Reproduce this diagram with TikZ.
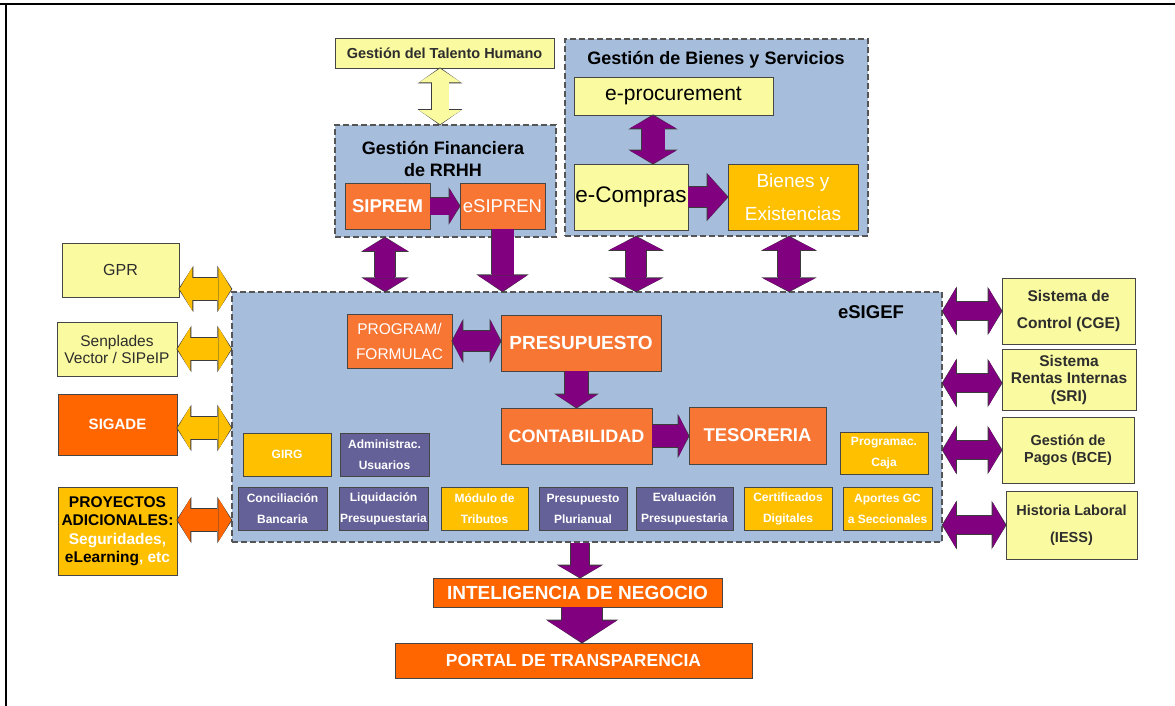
\documentclass[tikz,border=0pt]{standalone}
\usepackage{fontspec}
\setmainfont{Liberation Sans}
\usetikzlibrary{arrows.meta}

\definecolor{groupblue}{RGB}{166,190,220}
\definecolor{groupline}{RGB}{85,85,85}
\definecolor{paleyellow}{RGB}{250,250,160}
\definecolor{boxorange}{RGB}{247,118,52}
\definecolor{redorange}{RGB}{255,102,0}
\definecolor{gold}{RGB}{255,192,0}
\definecolor{slate}{RGB}{100,96,152}
\definecolor{plum}{RGB}{128,0,128}
\definecolor{boxline}{RGB}{70,70,70}
\definecolor{arrowline}{RGB}{60,60,60}
\definecolor{darktext}{RGB}{45,45,45}

\begin{document}
\begin{tikzpicture}[x=1pt, y=-1pt,
    box/.style={rectangle, draw=boxline, line width=0.9pt, inner sep=1pt, align=center},
    pale_box/.style={box, fill=paleyellow, text=darktext},
    orange_box/.style={box, fill=boxorange, text=white},
    red_box/.style={box, fill=redorange, text=white},
    gold_box/.style={box, fill=gold, text=white},
    slate_box/.style={box, fill=slate, text=white},
    small/.style={font=\fontsize{12}{21}\selectfont\bfseries,
                  minimum width=89pt, minimum height=43pt},
    group/.style={rectangle, draw=groupline, fill=groupblue, line width=1.5pt,
                  dash pattern=on 6pt off 3pt},
    fat/.style n args={3}{line width=#1,
        -{Triangle[width=#2, length=#3, line width=0pt]},
        preaction={draw=arrowline, line width=#1+1.6pt, shorten >=-1pt,
                   -{Triangle[width=#2+2.6pt, length=#3+2pt, line width=0pt]}}},
    fat_both/.style n args={3}{line width=#1,
        {Triangle[width=#2, length=#3, line width=0pt]}-{Triangle[width=#2, length=#3, line width=0pt]},
        preaction={draw=arrowline, line width=#1+1.6pt, shorten >=-1pt, shorten <=-1pt,
                   {Triangle[width=#2+2.6pt, length=#3+2pt, line width=0pt]}-{Triangle[width=#2+2.6pt, length=#3+2pt, line width=0pt]}}}]
  \useasboundingbox (0,0) rectangle (1175,706);
  % frame
  \draw [line width=2pt] (0,4) -- (1175,4);
  \draw [line width=2pt] (5.5,4) -- (5.5,706);

  % groups
  \node (gfin_rrhh) [group, minimum width=221pt, minimum height=112pt] at (445.5,181) {};
  \node (bienes_serv) [group, minimum width=303pt, minimum height=197pt] at (716.5,137.5) {};
  \node (esigef) [group, minimum width=710pt, minimum height=250pt] at (587,417) {};
  \node (gfin_title) [font=\fontsize{18}{22}\selectfont\bfseries, align=center]
        at (443,159) {Gestión Financiera\\de RRHH};
  \node (bienes_title) [font=\fontsize{18}{22}\selectfont\bfseries]
        at (716,60) {Gestión de Bienes y Servicios};
  \node (esigef_title) [font=\fontsize{18.5}{22}\selectfont\bfseries]
        at (871,312) {eSIGEF};

  % top
  \node (talento_humano) [pale_box, minimum width=219pt, minimum height=30pt,
        font=\fontsize{14.5}{17}\selectfont\bfseries]
        at (444.5,53) {Gestión del Talento Humano};
  \node (siprem) [orange_box, minimum width=85pt, minimum height=46pt,
        font=\fontsize{18.5}{22}\selectfont\bfseries] at (387.5,206) {SIPREM};
  \node (esipren) [orange_box, minimum width=85pt, minimum height=46pt,
        font=\fontsize{18.5}{22}\selectfont] at (502.5,206) {eSIPREN};
  \node (eprocurement) [pale_box, text=black, minimum width=199pt, minimum height=38pt,
        font=\fontsize{21}{25}\selectfont] at (673.5,96) {e-procurement};
  \node (ecompras) [pale_box, text=black, minimum width=114pt, minimum height=66pt,
        font=\fontsize{22.5}{26}\selectfont] at (631,197) {e-Compras};
  \node (bienes_exist) [gold_box, minimum width=130pt, minimum height=66pt,
        font=\fontsize{19}{33}\selectfont] at (793,197) {Bienes y\\Existencias};

  % eSIGEF
  \node (program) [orange_box, minimum width=105pt, minimum height=54pt,
        font=\fontsize{15.5}{25}\selectfont] at (399.5,341) {PROGRAM/\\FORMULAC};
  \node (presupuesto) [orange_box, minimum width=160pt, minimum height=56pt,
        font=\fontsize{19}{22}\selectfont\bfseries] at (581,343) {PRESUPUESTO};
  \node (contabilidad) [orange_box, minimum width=151pt, minimum height=56pt,
        font=\fontsize{18}{22}\selectfont\bfseries] at (576.5,436) {CONTABILIDAD};
  \node (tesoreria) [orange_box, minimum width=137pt, minimum height=57pt,
        font=\fontsize{18.5}{22}\selectfont\bfseries] at (757.5,435.5) {TESORERIA};
  \node (programac_caja) [gold_box, small, minimum width=88pt, minimum height=42pt]
        at (884,453) {Programac.\\Caja};
  \node (girg) [gold_box, small, minimum width=88pt] at (287,454.5) {GIRG};
  \node (admin_usuarios) [slate_box, small] at (384.5,454.5) {Administrac.\\Usuarios};
  \node (conciliacion) [slate_box, small] at (282.5,508.5) {Conciliación\\Bancaria};
  \node (liquidacion) [slate_box, small] at (383.5,508.5) {Liquidación\\Presupuestaria};
  \node (tributos) [gold_box, small, minimum width=87pt] at (484.5,508.5) {Módulo de\\Tributos};
  \node (plurianual) [slate_box, small, minimum width=88pt] at (583,508.5) {Presupuesto\\Plurianual};
  \node (evaluacion) [slate_box, small, minimum width=97pt] at (684.5,508.5) {Evaluación\\Presupuestaria};
  \node (certificados) [gold_box, small, minimum width=88pt] at (788,508.5) {Certificados\\Digitales};
  \node (aportes) [gold_box, small] at (887.5,508.5) {Aportes GC\\a Seccionales};

  % left
  \node (gpr) [pale_box, minimum width=117pt, minimum height=54pt,
        font=\fontsize{16}{19}\selectfont] at (120.5,270) {GPR};
  \node (senplades) [pale_box, minimum width=120pt, minimum height=54pt,
        font=\fontsize{15.5}{17}\selectfont] at (117,349) {Senplades\\Vector / SIPeIP};
  \node (sigade) [red_box, minimum width=119pt, minimum height=61pt,
        font=\fontsize{15}{18}\selectfont\bfseries] at (117.5,424.5) {SIGADE};
  \node (proyectos) [gold_box, text=black, minimum width=119pt, minimum height=88pt,
        font=\fontsize{15.5}{18.5}\selectfont\bfseries] at (117.5,531)
        {PROYECTOS\\ADICIONALES:\\\textcolor{white}{Seguridades,}\\eLearning\textcolor{white}{, etc}};

  % right
  \node (cge) [pale_box, minimum width=133pt, minimum height=66pt,
        font=\fontsize{15.5}{27}\selectfont\bfseries] at (1068.5,311) {Sistema de\\Control (CGE)};
  \node (sri) [pale_box, minimum width=134pt, minimum height=61pt,
        font=\fontsize{15.5}{17.5}\selectfont\bfseries] at (1069,379.5) {Sistema\\Rentas Internas\\(SRI)};
  \node (bce) [pale_box, minimum width=132pt, minimum height=66pt,
        font=\fontsize{14.5}{16.5}\selectfont\bfseries] at (1068,450) {Gestión de\\Pagos (BCE)};
  \node (iess) [pale_box, minimum width=131pt, minimum height=68pt,
        font=\fontsize{14.5}{27}\selectfont\bfseries] at (1071.5,525) {Historia Laboral\\(IESS)};

  % bottom
  \node (inteligencia) [red_box, minimum width=289pt, minimum height=29pt,
        font=\fontsize{19}{22}\selectfont\bfseries] at (577.5,592.5) {INTELIGENCIA DE NEGOCIO};
  \node (portal) [red_box, minimum width=357pt, minimum height=35pt,
        font=\fontsize{17.5}{21}\selectfont\bfseries] at (573.5,660.5) {PORTAL DE TRANSPARENCIA};

  % connectors
  \draw [fat_both={17pt}{42pt}{14pt}, draw=paleyellow]
        (talento_humano.south -| 440,0) -- (gfin_rrhh.north -| 440,0);
  \draw [fat={17pt}{35pt}{10pt}, draw=plum] (siprem.east) -- (esipren.west);
  \draw [fat_both={23pt}{47pt}{13pt}, draw=plum]
        (eprocurement.south -| 653,0) -- (ecompras.north -| 653,0);
  \draw [fat={20pt}{46pt}{20pt}, draw=plum] (ecompras.east) -- (bienes_exist.west);
  \draw [fat_both={20pt}{45pt}{13pt}, draw=plum]
        (gfin_rrhh.south -| 385,0) -- (esigef.north -| 385,0);
  \draw [fat={22pt}{50pt}{16pt}, draw=plum] (esipren.south) -- (esigef.north -| esipren.south);
  \draw [fat_both={20pt}{53pt}{13pt}, draw=plum]
        (bienes_serv.south -| 636,0) -- (esigef.north -| 636,0);
  \draw [fat_both={22pt}{53pt}{13pt}, draw=plum]
        (bienes_serv.south -| 789,0) -- (esigef.north -| 789,0);
  \draw [fat_both={20pt}{42pt}{10pt}, draw=plum]
        (program.east) -- (program.east -| presupuesto.west);
  \draw [fat={23pt}{42pt}{13pt}, draw=plum]
        (presupuesto.south -| contabilidad.north) -- (contabilidad.north);
  \draw [fat={22pt}{42pt}{10pt}, draw=plum]
        (contabilidad.east) -- (contabilidad.east -| tesoreria.west);
  \draw [fat_both={22pt}{44pt}{13pt}, draw=gold] (gpr.east |- 0,289) -- (esigef.west |- 0,289);
  \draw [fat_both={22pt}{44pt}{13pt}, draw=gold] (senplades.east) -- (senplades.east -| esigef.west);
  \draw [fat_both={22pt}{44pt}{13pt}, draw=gold] (sigade.east |- 0,428) -- (esigef.west |- 0,428);
  \draw [fat_both={22pt}{44pt}{13pt}, draw=redorange] (proyectos.east |- 0,520) -- (esigef.west |- 0,520);
  \draw [fat_both={18pt}{46pt}{13pt}, draw=plum] (esigef.east |- cge.west) -- (cge.west);
  \draw [fat_both={18pt}{46pt}{13pt}, draw=plum] (esigef.east |- 0,383) -- (sri.west |- 0,383);
  \draw [fat_both={18pt}{46pt}{13pt}, draw=plum] (esigef.east |- bce.west) -- (bce.west);
  \draw [fat_both={18pt}{46pt}{13pt}, draw=plum] (esigef.east |- iess.west) -- (iess.west);
  \draw [fat={18pt}{44pt}{12pt}, draw=plum]
        (esigef.south -| 580,0) -- (inteligencia.north -| 580,0);
  \draw [fat={40pt}{70pt}{22pt}, draw=plum]
        (inteligencia.south -| 582,0) -- (portal.north -| 582,0);
\end{tikzpicture}
\end{document}
